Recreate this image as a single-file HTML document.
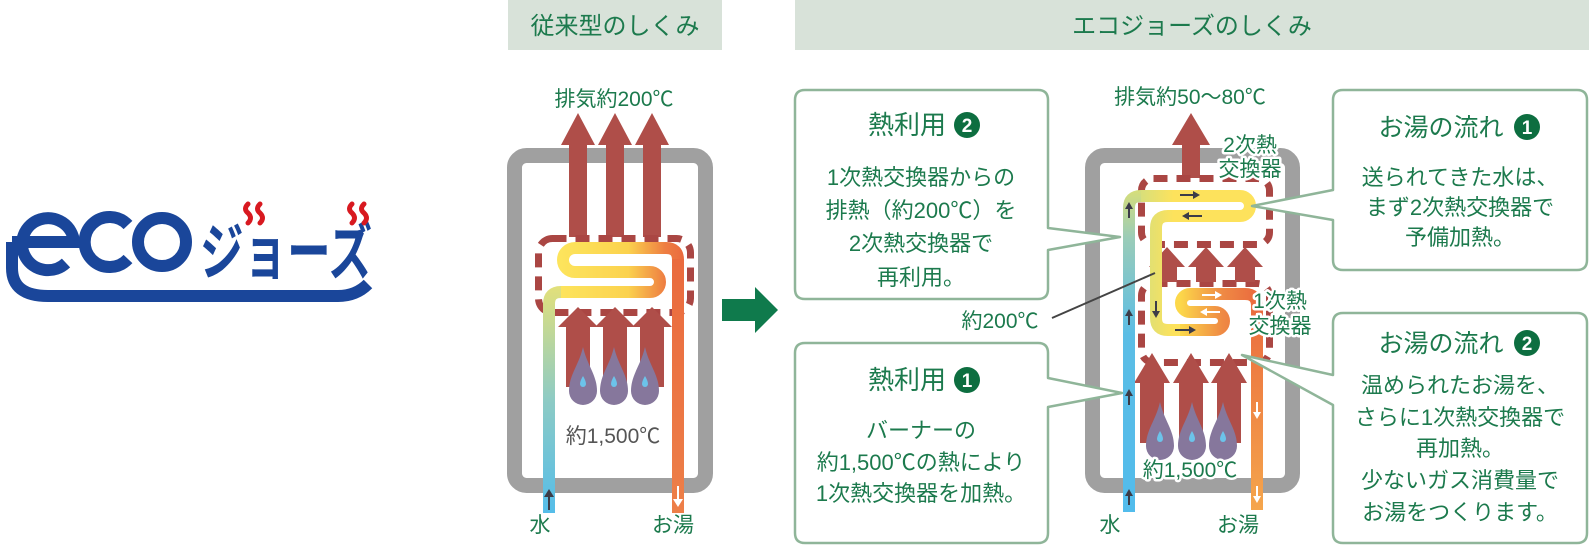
<!DOCTYPE html>
<html><head><meta charset="utf-8"><style>
html,body{margin:0;padding:0;background:#fff;}
svg{display:block;}
text{font-family:"Liberation Sans","Noto Sans CJK JP",sans-serif;}
.g{fill:#1c7a4d;}
.halo{paint-order:stroke;stroke:#fff;stroke-width:5px;stroke-linejoin:round;}
</style></head><body>
<svg width="1589" height="546" viewBox="0 0 1589 546" xmlns="http://www.w3.org/2000/svg">
<defs>
<linearGradient id="lp" gradientUnits="userSpaceOnUse" x1="0" y1="513" x2="0" y2="286">
<stop offset="0" stop-color="#55bde9"/><stop offset="0.5" stop-color="#8ecbc4"/><stop offset="1" stop-color="#e2e07a"/></linearGradient>
<linearGradient id="sp" gradientUnits="userSpaceOnUse" x1="560" y1="0" x2="684" y2="0">
<stop offset="0" stop-color="#fde45c"/><stop offset="0.55" stop-color="#fbd24e"/><stop offset="0.85" stop-color="#ee7d42"/><stop offset="1" stop-color="#ea6a3e"/></linearGradient>
<linearGradient id="rp" gradientUnits="userSpaceOnUse" x1="0" y1="250" x2="0" y2="513">
<stop offset="0" stop-color="#ea6a3e"/><stop offset="1" stop-color="#ed7f48"/></linearGradient>
<linearGradient id="lp2" gradientUnits="userSpaceOnUse" x1="0" y1="512" x2="0" y2="190">
<stop offset="0" stop-color="#52bcec"/><stop offset="0.55" stop-color="#5bbde5"/><stop offset="0.85" stop-color="#9accb8"/><stop offset="1" stop-color="#d6de7a"/></linearGradient>
<linearGradient id="sp2" gradientUnits="userSpaceOnUse" x1="1141" y1="0" x2="1250" y2="0">
<stop offset="0" stop-color="#d8df7a"/><stop offset="0.3" stop-color="#fde25c"/><stop offset="1" stop-color="#fde25c"/></linearGradient>
<linearGradient id="s3" gradientUnits="userSpaceOnUse" x1="1180" y1="0" x2="1257" y2="0">
<stop offset="0" stop-color="#fcd84a"/><stop offset="0.55" stop-color="#ef8a44"/><stop offset="1" stop-color="#ea6a3e"/></linearGradient>
<linearGradient id="rp2" gradientUnits="userSpaceOnUse" x1="0" y1="300" x2="0" y2="512">
<stop offset="0" stop-color="#ea6a3e"/><stop offset="1" stop-color="#f5a64c"/></linearGradient>
</defs>

<!-- logo -->
<g fill="none" stroke="#1a469a" stroke-width="12">
<path d="M12,242 H74 A26,26 0 1 0 66,263"/>
<path d="M128,225 A25,25 0 1 0 128,259"/>
<circle cx="162" cy="242" r="24"/>
<path d="M12,242 V268 Q12,296 48,296 H338 Q356,296 368,284"/>
</g>
<text x="200" y="274" font-size="62" font-weight="bold" fill="#1a469a" textLength="172" lengthAdjust="spacingAndGlyphs" style="font-family:'Noto Sans CJK JP',sans-serif">ジョーズ</text>
<g fill="none" stroke="#d81920" stroke-width="5" stroke-linecap="round">
<path d="M248,204 q-5,5 0,9 q5,5 0,10"/><path d="M260,204 q-5,5 0,9 q5,5 0,10"/>
<path d="M352,204 q-5,5 0,9 q5,5 0,10"/><path d="M364,204 q-5,5 0,9 q5,5 0,10"/>
</g>

<!-- headers -->
<rect x="508" y="0" width="214" height="50" fill="#d8e2d9"/>
<text x="615" y="34" font-size="24" class="g" text-anchor="middle">従来型のしくみ</text>
<rect x="795" y="0" width="794" height="50" fill="#d8e2d9"/>
<text x="1192" y="34" font-size="24" class="g" text-anchor="middle">エコジョーズのしくみ</text>

<!-- LEFT DEVICE -->
<text x="614" y="106" font-size="21" class="g" text-anchor="middle">排気約200℃</text>
<rect x="514.5" y="155.5" width="191" height="330" rx="12" fill="none" stroke="#a0a0a0" stroke-width="15"/>
<g fill="#af4e49">
<polygon points="578,113 595,145 587,145 587,237 569,237 569,145 561,145"/>
<polygon points="615,113 632,145 624,145 624,237 606,237 606,145 598,145"/>
<polygon points="652,113 669,145 661,145 661,237 643,237 643,145 635,145"/>
</g>
<rect x="538.5" y="238.5" width="152" height="74" rx="14" fill="none" stroke="#aa4643" stroke-width="7" stroke-dasharray="14 9"/>
<path d="M549,513 V304 Q549,292 561,292" fill="none" stroke="url(#lp)" stroke-width="12"/>
<path d="M561,292 H650 A10,10 0 0 0 650,272 H575 A12,12 0 0 1 575,248 H666 Q678,248 678,260" fill="none" stroke="url(#sp)" stroke-width="12"/>
<path d="M678,259 V513" fill="none" stroke="url(#rp)" stroke-width="12"/>
<g fill="#af4e49">
<polygon points="578,307 598,327 590,327 590,387 566,387 566,327 558,327"/>
<polygon points="615,307 635,327 627,327 627,387 603,387 603,327 595,327"/>
<polygon points="652,307 672,327 664,327 664,387 640,387 640,327 632,327"/>
</g>
<g fill="#86779c">
<path d="M583,347 C587,365 597,375 597,391 A14,14 0 0 1 569,391 C569,375 579,365 583,347Z"/>
<path d="M614,347 C618,365 628,375 628,391 A14,14 0 0 1 600,391 C600,375 610,365 614,347Z"/>
<path d="M645,347 C649,365 659,375 659,391 A14,14 0 0 1 631,391 C631,375 641,365 645,347Z"/>
</g>
<g fill="#6cc3ea">
<path d="M583,376 q3,5 3,8 a3,3 0 0 1 -6,0 q0,-3 3,-8z"/><path d="M614,376 q3,5 3,8 a3,3 0 0 1 -6,0 q0,-3 3,-8z"/><path d="M645,376 q3,5 3,8 a3,3 0 0 1 -6,0 q0,-3 3,-8z"/>
</g>
<text x="613" y="443" font-size="21" fill="#555" text-anchor="middle">約1,500℃</text>
<path d="M549,510 V494" stroke="#3c3c48" stroke-width="2"/><polygon points="549,489 544,497 554,497" fill="#3c3c48"/>
<path d="M678,486 V502" stroke="#fff" stroke-width="2"/><polygon points="678,507 673,499 683,499" fill="#fff"/>
<text x="540" y="532" font-size="21" class="g" text-anchor="middle">水</text>
<text x="673" y="532" font-size="21" class="g" text-anchor="middle">お湯</text>

<!-- green arrow -->
<polygon points="722,299 755,299 755,287 778,310 755,333 755,321 722,321" fill="#0f7a4c"/>

<!-- RIGHT DEVICE -->
<text x="1190" y="104" font-size="21" class="g" text-anchor="middle">排気約50〜80℃</text>
<rect x="1092.5" y="155.5" width="200" height="330" rx="12" fill="none" stroke="#a0a0a0" stroke-width="15"/>
<polygon points="1191,113 1210,145 1200,145 1200,178 1182,178 1182,145 1172,145" fill="#af4e49"/>
<rect x="1141.5" y="178.5" width="128" height="66" rx="12" fill="none" stroke="#aa4643" stroke-width="7" stroke-dasharray="14 9"/>
<rect x="1141.5" y="283.5" width="128" height="79" rx="12" fill="none" stroke="#aa4643" stroke-width="7" stroke-dasharray="14 9"/>
<g fill="#af4e49">
<polygon points="1167,247 1185,267 1177,267 1177,282 1157,282 1157,267 1149,267"/>
<polygon points="1206,247 1224,267 1216,267 1216,282 1196,282 1196,267 1188,267"/>
<polygon points="1245,247 1263,267 1255,267 1255,282 1235,282 1235,267 1227,267"/>
<polygon points="1152,353 1170,383 1164,383 1164,443 1140,443 1140,383 1134,383"/>
<polygon points="1191,353 1209,383 1203,383 1203,443 1179,443 1179,383 1173,383"/>
<polygon points="1229,353 1247,383 1241,383 1241,443 1217,443 1217,383 1211,383"/>
</g>
<path d="M1129,512 V208 Q1129,196 1141,196" fill="none" stroke="url(#lp2)" stroke-width="12"/>
<path d="M1141,196 H1240 A10,10 0 0 1 1240,216 H1168 Q1156,216 1156,228 V318 Q1156,330 1168,330 H1181" fill="none" stroke="url(#sp2)" stroke-width="12"/>
<path d="M1180,330 H1215 A9,9 0 0 0 1215,312 H1190 A9,9 0 0 1 1190,294 H1245 Q1257,294 1257,306 V331" fill="none" stroke="url(#s3)" stroke-width="12"/>
<path d="M1257,330 V510" fill="none" stroke="url(#rp2)" stroke-width="12"/>
<g fill="#86779c">
<path d="M1160,402 C1164,420 1174,430 1174,446 A14,14 0 0 1 1146,446 C1146,430 1156,420 1160,402Z"/>
<path d="M1192,402 C1196,420 1206,430 1206,446 A14,14 0 0 1 1178,446 C1178,430 1188,420 1192,402Z"/>
<path d="M1223,402 C1227,420 1237,430 1237,446 A14,14 0 0 1 1209,446 C1209,430 1219,420 1223,402Z"/>
</g>
<g fill="#6cc3ea">
<path d="M1160,431 q3,5 3,8 a3,3 0 0 1 -6,0 q0,-3 3,-8z"/><path d="M1192,431 q3,5 3,8 a3,3 0 0 1 -6,0 q0,-3 3,-8z"/><path d="M1223,431 q3,5 3,8 a3,3 0 0 1 -6,0 q0,-3 3,-8z"/>
</g>
<text x="1190" y="477" font-size="21" class="g halo" text-anchor="middle">約1,500℃</text>
<g stroke="#3c3c48" stroke-width="2" fill="#3c3c48">
<path d="M1129,218 V206"/><polygon points="1129,202 1125,209 1133,209" stroke="none"/>
<path d="M1129,325 V313"/><polygon points="1129,309 1125,316 1133,316" stroke="none"/>
<path d="M1129,405 V393"/><polygon points="1129,389 1125,396 1133,396" stroke="none"/>
<path d="M1129,505 V493"/><polygon points="1129,489 1125,496 1133,496" stroke="none"/>
<path d="M1180,195 H1195"/><polygon points="1200,195 1193,191 1193,199" stroke="none"/>
<path d="M1202,216 H1187"/><polygon points="1182,216 1189,212 1189,220" stroke="none"/>
<path d="M1156,301 V313"/><polygon points="1156,318 1152,311 1160,311" stroke="none"/>
<path d="M1175,330 H1190"/><polygon points="1196,330 1189,326 1189,334" stroke="none"/>
</g>
<g stroke="#fff" stroke-width="2" fill="#fff">
<path d="M1202,295 H1217"/><polygon points="1222,295 1215,291 1215,299" stroke="none"/>
<path d="M1220,312 H1205"/><polygon points="1200,312 1207,308 1207,316" stroke="none"/>
<path d="M1257,313 V330"/><polygon points="1257,335 1253,328 1261,328" stroke="none"/>
<path d="M1257,402 V414"/><polygon points="1257,419 1253,412 1261,412" stroke="none"/>
<path d="M1257,486 V498"/><polygon points="1257,503 1253,496 1261,496" stroke="none"/>
</g>
<text x="1250" y="152" font-size="21" class="g halo" text-anchor="middle">2次熱</text>
<text x="1250" y="176" font-size="21" class="g halo" text-anchor="middle">交換器</text>
<text x="1280" y="308" font-size="21" class="g halo" text-anchor="middle">1次熱</text>
<text x="1280" y="333" font-size="21" class="g halo" text-anchor="middle">交換器</text>
<text x="1110" y="532" font-size="21" class="g" text-anchor="middle">水</text>
<text x="1238" y="532" font-size="21" class="g" text-anchor="middle">お湯</text>

<text x="1000" y="328" font-size="21" class="g" text-anchor="middle">約200℃</text>
<path d="M1052,318 L1155,273" stroke="#444" stroke-width="2"/>

<!-- callouts -->
<g fill="#fff" stroke="#8fb599" stroke-width="2.5" stroke-linejoin="round">
<path d="M805,90 H1038 Q1048,90 1048,100 V228 L1120,237 L1048,250 V289 Q1048,299 1038,299 H805 Q795,299 795,289 V100 Q795,90 805,90Z"/>
<path d="M805,343 H1038 Q1048,343 1048,353 V378 L1122,393 L1048,407 V533 Q1048,543 1038,543 H805 Q795,543 795,533 V353 Q795,343 805,343Z"/>
<path d="M1343,90 H1577 Q1587,90 1587,100 V260 Q1587,270 1577,270 H1343 Q1333,270 1333,260 V220 L1252,206 L1333,190 V100 Q1333,90 1343,90Z"/>
<path d="M1343,313 H1577 Q1587,313 1587,323 V533 Q1587,543 1577,543 H1343 Q1333,543 1333,533 V405 L1242,355 L1333,375 V323 Q1333,313 1343,313Z"/>
</g>
<g class="g" font-size="22" text-anchor="middle">
<text x="907" y="134" font-size="26">熱利用</text>
<text x="921" y="185">1次熱交換器からの</text>
<text x="921" y="218">排熱（約200℃）を</text>
<text x="921" y="251">2次熱交換器で</text>
<text x="921" y="285">再利用。</text>
<text x="907" y="389" font-size="26">熱利用</text>
<text x="921" y="438">バーナーの</text>
<text x="921" y="470">約1,500℃の熱により</text>
<text x="921" y="501">1次熱交換器を加熱。</text>
<text x="1441" y="136" font-size="25">お湯の流れ</text>
<text x="1460" y="185">送られてきた水は、</text>
<text x="1460" y="215">まず2次熱交換器で</text>
<text x="1460" y="245">予備加熱。</text>
<text x="1441" y="352" font-size="25">お湯の流れ</text>
<text x="1460" y="393">温められたお湯を、</text>
<text x="1460" y="425">さらに1次熱交換器で</text>
<text x="1460" y="456">再加熱。</text>
<text x="1460" y="488">少ないガス消費量で</text>
<text x="1460" y="520">お湯をつくります。</text>
</g>
<g>
<circle cx="967" cy="125" r="13" fill="#0d6e40"/><text x="967" y="132" font-size="19" font-weight="bold" fill="#fff" text-anchor="middle">2</text>
<circle cx="967" cy="380" r="13" fill="#0d6e40"/><text x="967" y="387" font-size="19" font-weight="bold" fill="#fff" text-anchor="middle">1</text>
<circle cx="1527" cy="127" r="13" fill="#0d6e40"/><text x="1527" y="134" font-size="19" font-weight="bold" fill="#fff" text-anchor="middle">1</text>
<circle cx="1527" cy="343" r="13" fill="#0d6e40"/><text x="1527" y="350" font-size="19" font-weight="bold" fill="#fff" text-anchor="middle">2</text>
</g>
</svg>
</body></html>
